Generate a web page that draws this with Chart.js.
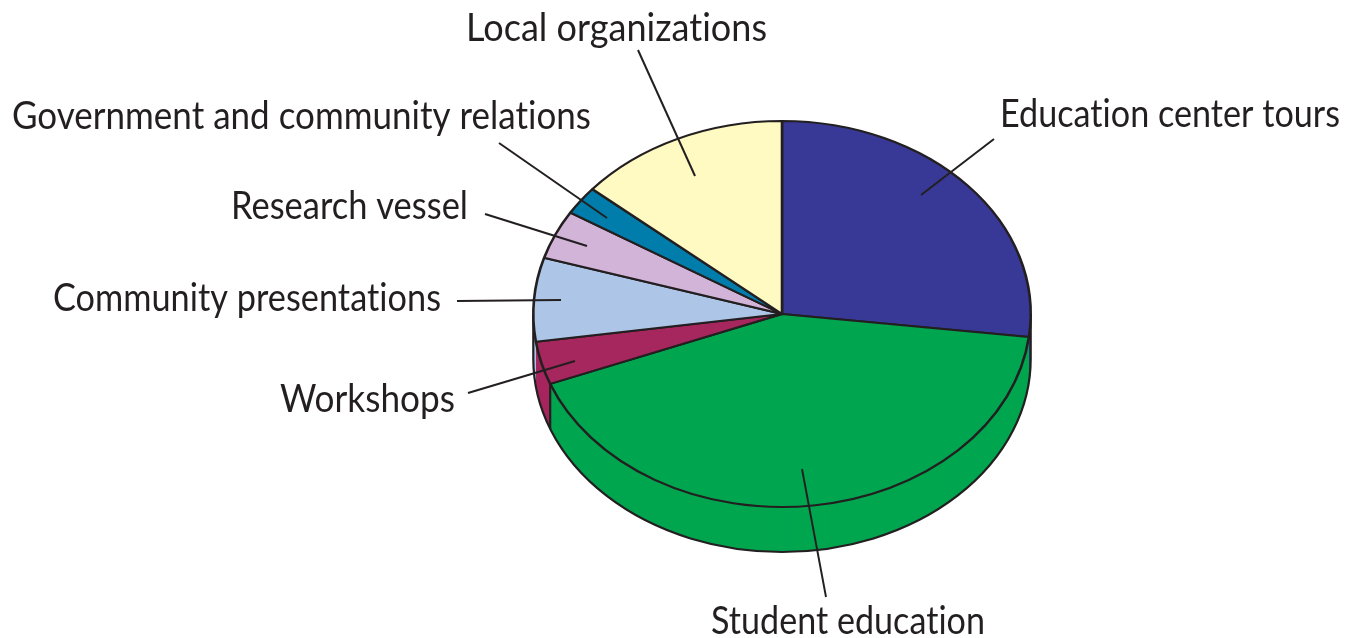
<!DOCTYPE html>
<html>
<head>
<meta charset="utf-8">
<title>Education programs</title>
<style>
    html, body { margin: 0; padding: 0; background: #fff; overflow: hidden; }
    canvas { display: block; }
</style>
<script src="https://cdn.jsdelivr.net/npm/chart.js@4"></script>
</head>
<body>
<canvas id="pie" width="1347" height="638"></canvas>
<script>
// Chart data, clockwise from the top
const categories = [
    'Education center tours',
    'Student education',
    'Workshops',
    'Community presentations',
    'Research vessel',
    'Government and community relations',
    'Local organizations'
];
const shares = [26.9, 42.2, 3.6, 7.0, 4.1, 2.4, 13.8];
const sliceColors = ['#383996', '#00a64f', '#a6265e', '#adc6e8', '#d2b4d9', '#007daa', '#fff9c2'];

// Where each label sits: left edge, baseline, width in the picture
const labelX = [1000, 711, 280, 53, 231, 12, 466];
const labelY = [127, 634, 412, 311, 219, 129, 41];
const labelW = [340, 274, 175, 388, 237, 579, 301];

// Leader lines: [x1, y1, x2, y2] per label
const leaders = [
    [994, 139, 921, 195],
    [826, 597, 802, 469],
    [468, 393, 575, 361],
    [457, 301, 561, 300],
    [485, 214, 587, 246],
    [499, 143, 607, 218],
    [638, 50, 695, 176]
];

const INK = '#231f20';
const TILT = 194 / 250;   // squash of the pie into an ellipse
const DEPTH = 45;         // height of the side wall, px

function tilt(ctx, arc) {
    ctx.translate(arc.x, arc.y);
    ctx.scale(1, TILT);
    ctx.translate(-arc.x, -arc.y);
}

const tiltedPie = {
    id: 'tiltedPie',

    // ── Side wall, then switch to the squashed context for the slices ──
    beforeDatasetsDraw(chart) {
        const ctx = chart.ctx;
        const arcs = chart.getDatasetMeta(0).data;
        const first = arcs[0];

        for (let d = DEPTH; d > 0; d--) {
            ctx.save();
            ctx.translate(0, d);
            tilt(ctx, first);
            arcs.forEach(function (arc, i) {
                ctx.beginPath();
                ctx.moveTo(arc.x, arc.y);
                ctx.arc(arc.x, arc.y, arc.outerRadius, arc.startAngle, arc.endAngle);
                ctx.closePath();
                ctx.fillStyle = sliceColors[i];
                ctx.fill();
            });
            ctx.restore();
        }

        const r = first.outerRadius;
        ctx.strokeStyle = INK;
        ctx.lineWidth = 2.2;

        // bottom rim
        ctx.save();
        ctx.translate(0, DEPTH);
        tilt(ctx, first);
        ctx.beginPath();
        ctx.arc(first.x, first.y, r, 0, Math.PI);
        ctx.restore();
        ctx.stroke();

        // vertical edges: both extremes and the Workshops / Student boundary
        const edge = arcs[1].endAngle;
        const ex = first.x + Math.cos(edge) * r;
        const ey = first.y + Math.sin(edge) * r * TILT;
        ctx.beginPath();
        ctx.moveTo(first.x + r, first.y);
        ctx.lineTo(first.x + r, first.y + DEPTH);
        ctx.moveTo(first.x - r, first.y);
        ctx.lineTo(first.x - r, first.y + DEPTH);
        ctx.moveTo(ex, ey);
        ctx.lineTo(ex, ey + DEPTH);
        ctx.stroke();

        ctx.save();
        tilt(ctx, first);
    },

    afterDatasetsDraw(chart) {
        const ctx = chart.ctx;
        ctx.restore();

        // ── Leader lines and labels ──
        ctx.save();
        ctx.strokeStyle = INK;
        ctx.lineWidth = 2;
        leaders.forEach(function (l) {
            ctx.beginPath();
            ctx.moveTo(l[0], l[1]);
            ctx.lineTo(l[2], l[3]);
            ctx.stroke();
        });

        ctx.fillStyle = INK;
        ctx.font = '38px Lato';
        ctx.letterSpacing = '0.01px';   // keeps the "ti" ligature off
        ctx.textBaseline = 'alphabetic';
        chart.data.labels.forEach(function (text, i) {
            const natural = ctx.measureText(text).width;
            ctx.save();
            ctx.translate(labelX[i], labelY[i]);
            ctx.scale(labelW[i] / natural, 1);
            ctx.fillText(text, 0, 0);
            ctx.restore();
        });
        ctx.restore();
    }
};

new Chart(document.getElementById('pie'), {
    type: 'pie',
    data: {
        labels: categories,
        datasets: [{
            data: shares,
            backgroundColor: sliceColors,
            borderColor: INK,
            borderWidth: 2.6,
            hoverOffset: 0,
            clip: false
        }]
    },
    options: {
        responsive: false,
        animation: false,
        events: [],
        layout: { padding: { left: 532, right: 315, top: 64, bottom: 74 } },
        plugins: {
            legend: { display: false },
            tooltip: { enabled: false }
        }
    },
    plugins: [tiltedPie]
});
</script>
</body>
</html>
